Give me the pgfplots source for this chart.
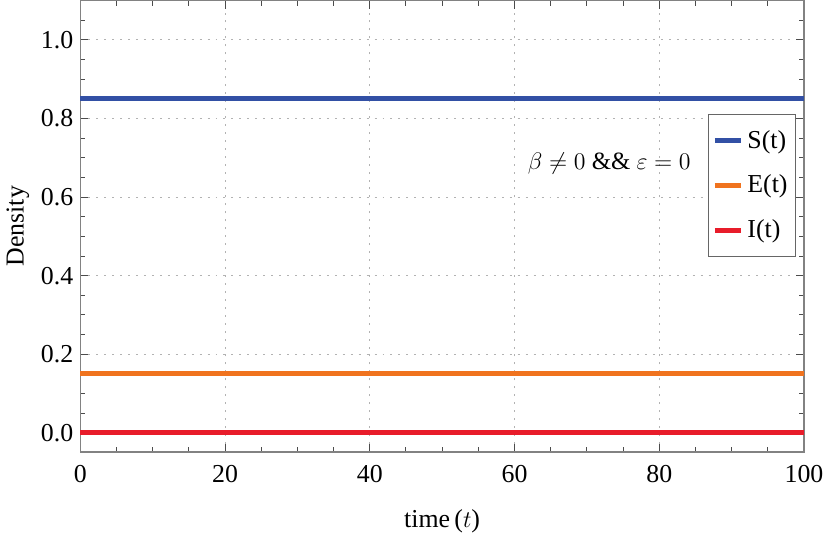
\documentclass[border=0pt]{standalone}
\usepackage{pgfplots}
\pgfplotsset{compat=1.18}
\usepackage{fontspec}
\setmainfont{Liberation Serif}
\definecolor{cS}{RGB}{50,80,165}
\definecolor{cE}{RGB}{240,115,30}
\definecolor{cI}{RGB}{232,28,42}
\definecolor{frame}{RGB}{130,130,130}
\begin{document}
\begin{tikzpicture}
\begin{axis}[
  width=364pt, height=227pt, scale only axis,
  xmin=0, xmax=100, ymin=-0.0485, ymax=1.1,
  xtick={0,20,40,60,80,100},
  ytick={0,0.2,0.4,0.6,0.8,1.0},
  minor xtick={5,10,15,25,30,35,45,50,55,65,70,75,85,90,95},
  minor ytick={-0.05,0.05,0.1,0.15,0.25,0.3,0.35,0.45,0.5,0.55,0.65,0.7,0.75,0.85,0.9,0.95,1.05},
  yticklabel style={/pgf/number format/.cd,fixed,fixed zerofill,precision=1},
  xticklabel style={yshift=-3pt},
  /pgf/number format/assume math mode=true,
  tick label style={font=\fontsize{13}{15}\selectfont, black},
  label style={font=\fontsize{13}{15}\selectfont},
  axis line style={frame, line width=0.6pt},
  major tick length=4pt, minor tick length=2.5pt,
  tick style={black!70, line width=0.5pt},
  tick align=inside,
  xmajorgrids, ymajorgrids,
  major grid style={gray!60, line width=0.4pt, dash pattern=on 1pt off 3pt},
  xlabel={time\,($t$)}, ylabel={Density},
  xlabel style={yshift=-7pt},
  ylabel style={yshift=-1pt},
  legend style={at={(0.989,0.749)}, anchor=north east, draw=black!60, line width=0.5pt,
    font=\fontsize{13}{15}\selectfont, row sep=8pt, inner xsep=2pt, inner ysep=6pt, fill=white},
  legend cell align=left,
  legend image code/.code={\draw[#1, line width=2.5pt] (0cm,0cm) -- (0.46cm,0cm);},
  clip=false,
]
\addplot[cS, line width=2.6pt] coordinates {(0,0.85) (100,0.85)};
\addlegendentry{S(t)}
\addplot[cE, line width=2.6pt] coordinates {(0,0.15) (100,0.15)};
\addlegendentry{E(t)}
\addplot[cI, line width=2.6pt] coordinates {(0,0.0) (100,0.0)};
\addlegendentry{I(t)}
\node[font=\fontsize{12.5}{14}\selectfont] at (axis cs:73.1,0.686) {$\beta\neq 0$ \&\& $\varepsilon = 0$};
\end{axis}
\end{tikzpicture}
\end{document}
